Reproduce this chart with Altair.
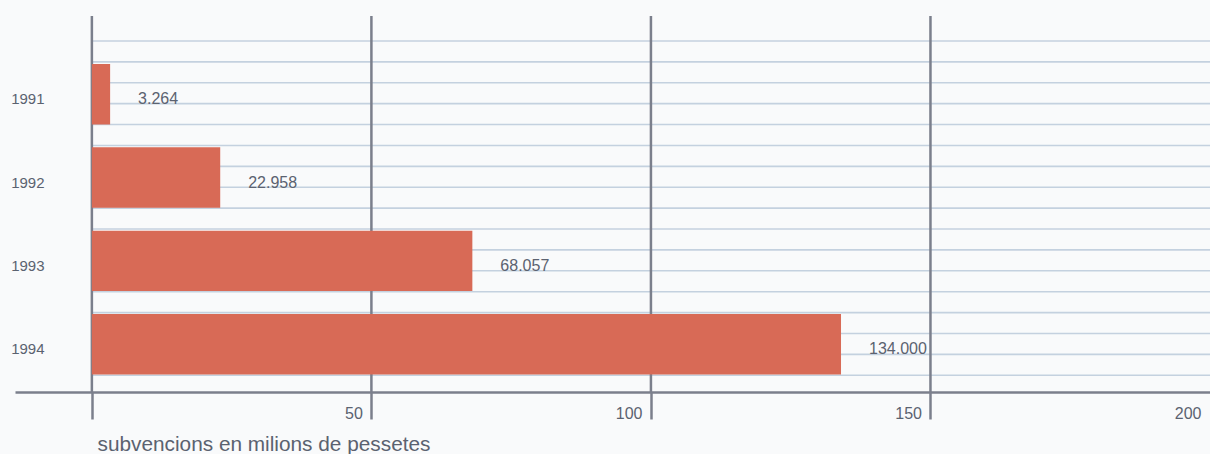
import altair as alt
import pandas as pd

# ---- data ----
years = ["1991", "1992", "1993", "1994"]
subsidies = [3.264, 22.958, 68.057, 134.000]
value_labels = [f"{v:.3f}" for v in subsidies]
x_ticks = [0, 50, 100, 150, 200]
vertical_lines = [0, 50, 100, 150]
notebook_lines = list(range(17))

x_domain = [-13.75, 200]
line_domain = [-1.196, 16.8]

bars_df = pd.DataFrame({"year": years, "value": subsidies, "label": value_labels})
lines_df = pd.DataFrame({"k": notebook_lines, "start": [0] * len(notebook_lines),
                         "end": [200] * len(notebook_lines)})
vlines_df = pd.DataFrame({"v": vertical_lines})

DARK = "#7b7f8c"
LIGHT = "#c4d1df"
BAR = "#d86a56"
TEXT = "#5b6270"
FONT = "Liberation Sans, Arial, sans-serif"

xscale = alt.Scale(domain=x_domain, nice=False, zero=False)
yband = alt.Scale(domain=years, paddingInner=0.274, paddingOuter=0.394, align=0.732)
yline = alt.Scale(domain=line_domain, reverse=True, nice=False, zero=False)

xaxis = alt.Axis(
    values=x_ticks,
    title="subvencions en milions de pessetes",
    labelExpr="datum.value == 0 ? '' : datum.label",
    labelAlign="right",
    labelOffset=-9,
    labelPadding=-14,
    labelFontSize=16,
    labelFont=FONT,
    labelColor=TEXT,
    tickSize=27,
    tickWidth=2.5,
    tickColor={"condition": {"test": "datum.value >= 200", "value": "transparent"}, "value": DARK},
    domainColor=DARK,
    domainWidth=2.5,
    grid=False,
    titleX=82,
    titleY=58,
    titleAlign="left",
    titleAnchor="start",
    titleBaseline="alphabetic",
    titleFontSize=20.8,
    titleFontWeight="normal",
    titleFont=FONT,
    titleColor=TEXT,
)

light = alt.Chart(lines_df).mark_rule(color=LIGHT, strokeWidth=1.6).encode(
    x=alt.X("start:Q", scale=xscale, axis=xaxis),
    x2="end:Q",
    y=alt.Y("k:Q", scale=yline, axis=None),
)

dark = alt.Chart(vlines_df).mark_rule(color=DARK, strokeWidth=2.5).encode(
    x=alt.X("v:Q", scale=xscale, axis=xaxis),
)

bars = alt.Chart(bars_df).mark_bar(color=BAR).encode(
    x=alt.X("value:Q", scale=xscale, axis=xaxis),
    y=alt.Y("year:N", scale=yband, sort=years,
            axis=alt.Axis(title=None, ticks=False, domain=False, grid=False,
                          labelPadding=-29, labelOffset=5, labelFontSize=15,
                          labelFont=FONT, labelColor=TEXT)),
)

labels = alt.Chart(bars_df).mark_text(
    align="left", baseline="middle", dx=28, dy=5, fontSize=16, font=FONT, color=TEXT
).encode(
    x=alt.X("value:Q", scale=xscale, axis=xaxis),
    y=alt.Y("year:N", sort=years),
    text="label:N",
)

bar_group = alt.layer(bars, labels)

chart = alt.layer(light, dark, bar_group).resolve_scale(y="independent").properties(
    width=1195,
    height=376,
    padding={"left": 15, "top": 16, "right": 0, "bottom": 62},
    autosize=alt.AutoSizeParams(type="none"),
    background="#f9fafb",
).configure_view(stroke=None)

chart.save("out.html", embed_options={"renderer": "svg", "actions": False})
